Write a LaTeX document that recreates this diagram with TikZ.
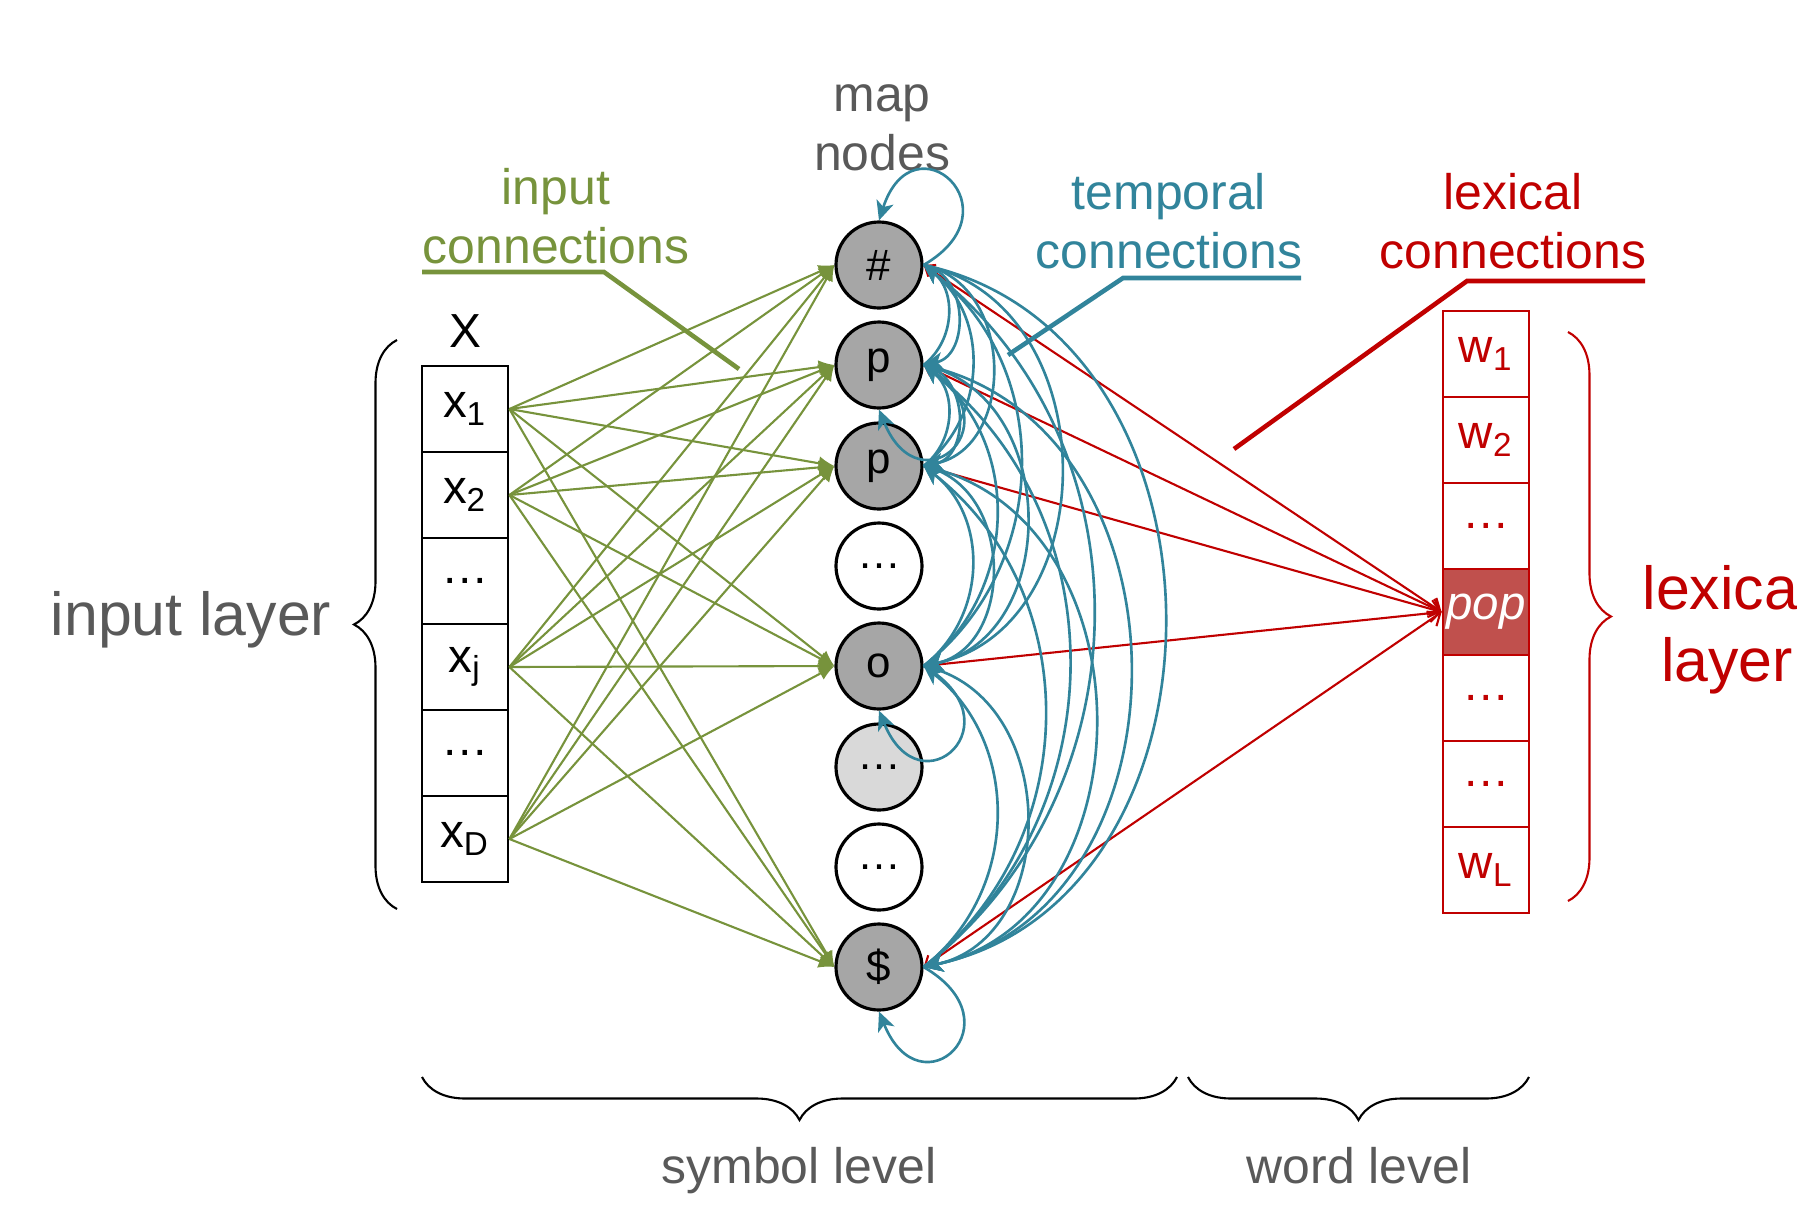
\documentclass[tikz,border=0pt]{standalone}
\usepackage{fontspec}
\setmainfont{Liberation Sans}
\usetikzlibrary{arrows.meta,decorations.pathreplacing}
\definecolor{ingreen}{HTML}{77933C}
\definecolor{tmpteal}{HTML}{31849B}
\definecolor{lexred}{HTML}{C00000}
\definecolor{popred}{HTML}{C0504D}
\definecolor{txtgray}{HTML}{595959}
\definecolor{mapgray}{HTML}{A6A6A6}
\definecolor{litegray}{HTML}{D9D9D9}

\begin{document}
\begin{tikzpicture}[
  mapnode/.style={draw, circle, line width=0.9pt, minimum size=0.86cm, inner sep=0pt, font=\fontsize{12.5}{15}\selectfont},
  incell/.style={draw, line width=0.8pt, minimum width=0.86cm, minimum height=0.86cm, inner sep=0pt, font=\fontsize{13.5}{15}\selectfont},
  lexcell/.style={incell, draw=lexred, text=lexred},
  lbl/.style={align=center, inner sep=0pt, font=\fontsize{14.2}{16.8}\selectfont},
  biglbl/.style={align=center, inner sep=0pt, font=\fontsize{17.3}{20.5}\selectfont},
  inarr/.style={draw=ingreen, line width=0.6pt, -{Latex[length=4.5pt,width=4pt]}},
  tmparr/.style={draw=tmpteal, line width=0.75pt, -{Stealth[length=5.5pt,width=5pt,inset=1.5pt]}},
  tdown/.style={tmparr, bend left=78, looseness=1.2},
  tup/.style={tmparr, bend right=52, looseness=1.05},
  tloop/.style={tmparr, looseness=4.5},
  lexarr/.style={draw=lexred, line width=0.6pt, {Straight Barb[length=3pt,width=5pt]}-{Straight Barb[length=2.5pt,width=4pt]}},
  callout/.style={line width=1.3pt},
  bracebig/.style={decorate, decoration={brace, amplitude=0.43cm}, line width=0.6pt}
]
\useasboundingbox (0,0) rectangle (17.97,-12.09);

\node[mapnode, fill=mapgray] (h) at (8.79,-2.65) {\#};
\node[mapnode, fill=mapgray] (p1) at (8.79,-3.65) {p};
\node[mapnode, fill=mapgray] (p2) at (8.79,-4.66) {p};
\node[mapnode] (d1) at (8.79,-5.66) {\dots};
\node[mapnode, fill=mapgray] (o) at (8.79,-6.66) {o};
\node[mapnode, fill=litegray] (d2) at (8.79,-7.67) {\dots};
\node[mapnode] (d3) at (8.79,-8.67) {\dots};
\node[mapnode, fill=mapgray] (s) at (8.79,-9.67) {\$};

\node[incell] (x1) at (4.65,-4.09) {x\textsubscript{1}};
\node[incell] (x2) at (4.65,-4.95) {x\textsubscript{2}};
\node[incell] (xd1) at (4.65,-5.81) {\dots};
\node[incell] (xj) at (4.65,-6.67) {x\textsubscript{j}};
\node[incell] (xd2) at (4.65,-7.53) {\dots};
\node[incell] (xD) at (4.65,-8.39) {x\textsubscript{D}};

\node[lexcell] (w1) at (14.86,-3.54) {w\textsubscript{1}};
\node[lexcell] (w2) at (14.86,-4.40) {w\textsubscript{2}};
\node[lexcell] (wd1) at (14.86,-5.26) {\dots};
\node[lexcell, fill=popred, text=white] (pop) at (14.86,-6.12) {\textit{pop}};
\node[lexcell] (wd2) at (14.86,-6.98) {\dots};
\node[lexcell] (wd3) at (14.86,-7.84) {\dots};
\node[lexcell] (wL) at (14.86,-8.70) {w\textsubscript{L}};

\node[font=\fontsize{13.6}{15}\selectfont, anchor=base, inner sep=0pt] (xlbl) at (4.65,-3.47) {X};
\node[lbl, text=txtgray] (maplbl) at (8.82,-1.28) {map\\nodes};
\node[lbl, text=ingreen] (inlbl) at (5.56,-2.16) {input\\connections};
\node[lbl, text=tmpteal] (tmplbl) at (11.69,-2.21) {temporal\\connections};
\node[lbl, text=lexred] (lexlbl) at (15.13,-2.21) {lexical\\connections};
\node[biglbl, text=txtgray, anchor=base] (inlayer) at (1.91,-6.35) {input layer};
\node[biglbl, text=lexred] (lexlayer) at (17.27,-6.30) {lexical\\layer};
\node[lbl, text=txtgray, anchor=base] (symlbl) at (7.99,-11.83) {symbol level};
\node[lbl, text=txtgray, anchor=base] (wordlbl) at (13.59,-11.83) {word level};

\path[inarr] (x1.east) -- (h.west);
\path[inarr] (x1.east) -- (p1.west);
\path[inarr] (x1.east) -- (p2.west);
\path[inarr] (x1.east) -- (o.west);
\path[inarr] (x1.east) -- (s.west);
\path[inarr] (x2.east) -- (h.west);
\path[inarr] (x2.east) -- (p1.west);
\path[inarr] (x2.east) -- (p2.west);
\path[inarr] (x2.east) -- (o.west);
\path[inarr] (x2.east) -- (s.west);
\path[inarr] (xj.east) -- (h.west);
\path[inarr] (xj.east) -- (p1.west);
\path[inarr] (xj.east) -- (p2.west);
\path[inarr] (xj.east) -- (o.west);
\path[inarr] (xj.east) -- (s.west);
\path[inarr] (xD.east) -- (h.west);
\path[inarr] (xD.east) -- (p1.west);
\path[inarr] (xD.east) -- (p2.west);
\path[inarr] (xD.east) -- (o.west);
\path[inarr] (xD.east) -- (s.west);

\path[lexarr] (pop.west) -- (h.east);
\path[lexarr] (pop.west) -- (p1.east);
\path[lexarr] (pop.west) -- (p2.east);
\path[lexarr] (pop.west) -- (o.east);
\path[lexarr] (pop.west) -- (s.east);

\path[tloop] (h.east) to[out=30,in=72] (h.north);
\path[tloop] (p1.east) to[out=-30,in=-68] (p1.south);
\path[tloop] (o.east) to[out=-30,in=-68] (o.south);
\path[tloop] (s.east) to[out=-30,in=-68] (s.south);

\path[tdown] (h.east) to (p1.east);
\path[tdown] (h.east) to (p2.east);
\path[tdown] (h.east) to (o.east);
\path[tdown] (h.east) to (s.east);
\path[tdown] (p1.east) to (p2.east);
\path[tdown] (p1.east) to (o.east);
\path[tdown] (p1.east) to (s.east);
\path[tdown] (p2.east) to (o.east);
\path[tdown] (p2.east) to (s.east);
\path[tdown] (o.east) to (s.east);
\path[tup] (p1.east) to (h.east);
\path[tup] (p2.east) to (h.east);
\path[tup] (o.east) to (h.east);
\path[tup] (s.east) to (h.east);
\path[tup] (p2.east) to (p1.east);
\path[tup] (o.east) to (p1.east);
\path[tup] (s.east) to (p1.east);
\path[tup] (o.east) to (p2.east);
\path[tup] (s.east) to (p2.east);
\path[tup] (s.east) to (o.east);

\coordinate (inTip) at (7.39,-3.69);
\coordinate (tmpTip) at (10.08,-3.55);
\coordinate (lexTip) at (12.34,-4.49);
\draw[callout, ingreen] (4.22,-2.72) -- (6.04,-2.72) -- (inTip);
\draw[callout, tmpteal] (13.01,-2.78) -- (11.23,-2.78) -- (tmpTip);
\draw[callout, lexred] (16.45,-2.81) -- (14.67,-2.81) -- (lexTip);

\draw[bracebig] (3.97,-9.09) -- (3.97,-3.40);
\draw[bracebig, lexred] (15.68,-3.32) -- (15.68,-9.01);
\draw[bracebig] (11.77,-10.77) -- (4.22,-10.77);
\draw[bracebig] (15.29,-10.77) -- (11.88,-10.77);
\end{tikzpicture}
\end{document}
